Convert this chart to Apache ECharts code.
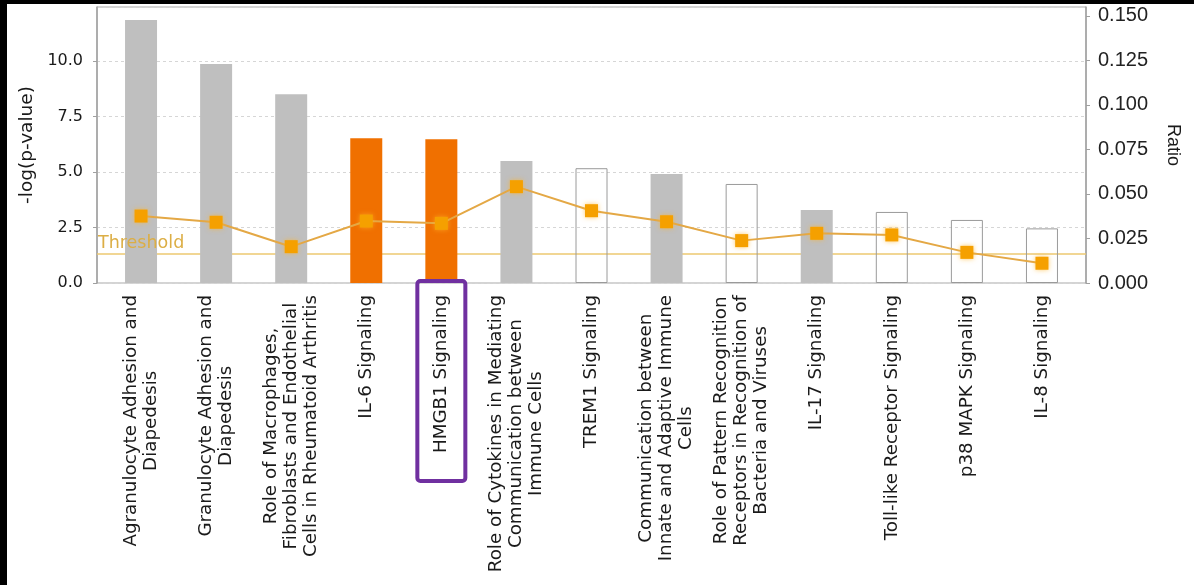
<!DOCTYPE html>
<html>
<head>
<meta charset="utf-8">
<script src="https://cdn.jsdelivr.net/npm/echarts@6/dist/echarts.min.js"></script>
<style>
  html, body { margin: 0; padding: 0; background: #fff; }
  #chart { width: 1194px; height: 585px; }
  .edge { position: absolute; background: #000; }
</style>
</head>
<body>
<div id="chart"></div>
<div class="edge" style="left:0;top:0;width:1194px;height:4px"></div>
<div class="edge" style="left:0;top:0;width:7px;height:585px"></div>
<script>
// Canonical pathways, ordered by significance
const categories = [
  'Agranulocyte Adhesion and\nDiapedesis',
  'Granulocyte Adhesion and\nDiapedesis',
  'Role of Macrophages,\nFibroblasts and Endothelial\nCells in Rheumatoid Arthritis',
  'IL-6 Signaling',
  'HMGB1 Signaling',
  'Role of Cytokines in Mediating\nCommunication between\nImmune Cells',
  'TREM1 Signaling',
  'Communication between\nInnate and Adaptive Immune\nCells',
  'Role of Pattern Recognition\nReceptors in Recognition of\nBacteria and Viruses',
  'IL-17 Signaling',
  'Toll-like Receptor Signaling',
  'p38 MAPK Signaling',
  'IL-8 Signaling'
];

// -log(p-value) per pathway (bars, left axis)
const negLogP = [11.85, 9.86, 8.50, 6.52, 6.47, 5.50, 5.17, 4.91, 4.46, 3.29, 3.20, 2.84, 2.46];

// Ratio of pathway molecules in the dataset (line, right axis)
const ratio = [0.0376, 0.0341, 0.0204, 0.0348, 0.0335, 0.0541, 0.0406, 0.0344, 0.0238, 0.0279, 0.0270, 0.0172, 0.0111];

// Bar fill class: 'gray' no activity pattern, 'orange' predicted activation, 'none' no prediction
const barClass = ['gray', 'gray', 'gray', 'orange', 'orange', 'gray', 'none', 'gray', 'none', 'gray', 'none', 'none', 'none'];

// Significance threshold, -log(0.05)
const threshold = 1.3;

// Axis tick labels
const leftTicks = ['0.0', '2.5', '5.0', '7.5', '10.0'];
const rightTicks = ['0.000', '0.025', '0.050', '0.075', '0.100', '0.125', '0.150'];

const LEFT_MAX = 12.43;
const RIGHT_MAX = 0.155;

const barStyles = {
  gray:   { color: '#bfbfbf', borderColor: '#bfbfbf', borderWidth: 0 },
  orange: { color: '#f07000', borderColor: '#f07000', borderWidth: 0 },
  none:   { color: 'rgba(255,255,255,0)', borderColor: '#9a9a9a', borderWidth: 1 }
};

const chart = echarts.init(document.getElementById('chart'), null, { renderer: 'canvas' });

const labelFont = 'DejaVu Sans';
const thresholdColor = '#ecc870';

const option = {
  backgroundColor: '#fff',
  animation: false,
  grid: [
    // inner plotting band for the bars and the ratio line
    { left: 103.5, right: 114.5, top: 7, bottom: 302 },
    // framed plot area carrying the visible value axes
    { left: 97, right: 108, top: 7, bottom: 302, show: true, borderColor: '#a8a8a8', borderWidth: 1, backgroundColor: 'transparent' }
  ],
  xAxis: [
    {
      type: 'category', gridIndex: 0, data: categories,
      axisLine: { show: false }, axisTick: { show: false },
      axisLabel: {
        interval: 0, rotate: 90, margin: 12,
        formatter: v => v.split('\n').map(l => '{c|' + l + '}').join('\n'),
        rich: { c: { align: 'center', fontFamily: labelFont, fontSize: 18.3, lineHeight: 20, color: '#1a1a1a' } }
      }
    },
    { type: 'value', gridIndex: 1, min: 0, max: 1, show: false }
  ],
  yAxis: [
    { type: 'value', gridIndex: 0, min: 0, max: LEFT_MAX, show: false },
    { type: 'value', gridIndex: 0, min: 0, max: RIGHT_MAX, show: false },
    {
      type: 'value', gridIndex: 1, position: 'left', min: 0, max: LEFT_MAX, interval: 2.5,
      name: '-log(p-value)', nameLocation: 'middle', nameGap: 55,
      nameTextStyle: { fontFamily: labelFont, fontSize: 18.5, color: '#1a1a1a' },
      axisLine: { show: true, lineStyle: { color: '#a0a0a0', width: 1.5 } },
      axisTick: { show: true, length: 4, lineStyle: { color: '#a0a0a0' } },
      axisLabel: {
        margin: 14, showMaxLabel: false, fontFamily: labelFont, fontSize: 16, color: '#1a1a1a',
        formatter: v => { const i = Math.round(v / 2.5); return leftTicks[i] !== undefined && Math.abs(v - i * 2.5) < 1e-6 ? leftTicks[i] : ''; }
      },
      splitLine: { show: true, lineStyle: { color: '#d6d6d6', type: [3, 3], width: 1 } }
    },
    {
      type: 'value', gridIndex: 1, position: 'right', min: 0, max: RIGHT_MAX, interval: 0.025,
      name: 'Ratio', nameLocation: 'middle', nameGap: 78, nameRotate: -90,
      nameTextStyle: { fontFamily: 'Liberation Sans', fontSize: 18, color: '#1a1a1a' },
      axisLine: { show: true, lineStyle: { color: '#a0a0a0', width: 1.5 } },
      axisTick: { show: true, length: 4, lineStyle: { color: '#a0a0a0' } },
      axisLabel: {
        margin: 12, showMaxLabel: false, fontFamily: 'Liberation Sans', fontSize: 20, color: '#222',
        formatter: v => { const i = Math.round(v / 0.025); return rightTicks[i] !== undefined && Math.abs(v - i * 0.025) < 1e-6 ? rightTicks[i] : ''; }
      },
      splitLine: { show: false }
    }
  ],
  series: [
    {
      // threshold rule, drawn beneath the bars
      name: 'Threshold', type: 'line', xAxisIndex: 1, yAxisIndex: 2, data: [], z: 1,
      markLine: {
        silent: true, symbol: 'none', z: 1,
        lineStyle: { color: thresholdColor, width: 1.5, type: 'solid' },
        label: { show: false },
        data: [{ yAxis: threshold }]
      }
    },
    {
      name: '-log(p-value)', type: 'bar', xAxisIndex: 0, yAxisIndex: 0, barWidth: 32, z: 2,
      data: negLogP.map((v, i) => ({ value: v, itemStyle: barStyles[barClass[i]] }))
    },
    {
      // threshold caption, laid over the bars
      name: 'Threshold label', type: 'line', xAxisIndex: 1, yAxisIndex: 2, data: [], z: 3,
      markLine: {
        silent: true, symbol: 'none', z: 3,
        lineStyle: { color: 'rgba(0,0,0,0)', width: 0 },
        label: {
          show: true, position: 'insideStartTop', formatter: 'Threshold', distance: [1, 2],
          color: '#dcae45', fontFamily: labelFont, fontSize: 17.5, opacity: 1
        },
        data: [{ yAxis: threshold }]
      }
    },
    {
      name: 'Ratio', type: 'line', xAxisIndex: 0, yAxisIndex: 1, data: ratio, z: 4,
      symbol: 'rect', symbolSize: 13,
      lineStyle: { color: '#e4a845', width: 2 },
      itemStyle: { color: '#f5a000', shadowBlur: 5, shadowColor: 'rgba(255,180,40,0.7)' }
    }
  ]
};

chart.setOption(option);

// Highlight box around the HMGB1 pathway label
const BOX_W = 48, BOX_TOP = 281, BOX_H = 200;
const cx = chart.convertToPixel({ xAxisIndex: 0 }, 'HMGB1 Signaling');
chart.setOption({
  graphic: [{
    type: 'rect', z: 100,
    shape: { x: cx - BOX_W / 2, y: BOX_TOP, width: BOX_W, height: BOX_H, r: 3 },
    style: { fill: 'none', stroke: '#7030a0', lineWidth: 4 }
  }]
});
</script>
</body>
</html>
